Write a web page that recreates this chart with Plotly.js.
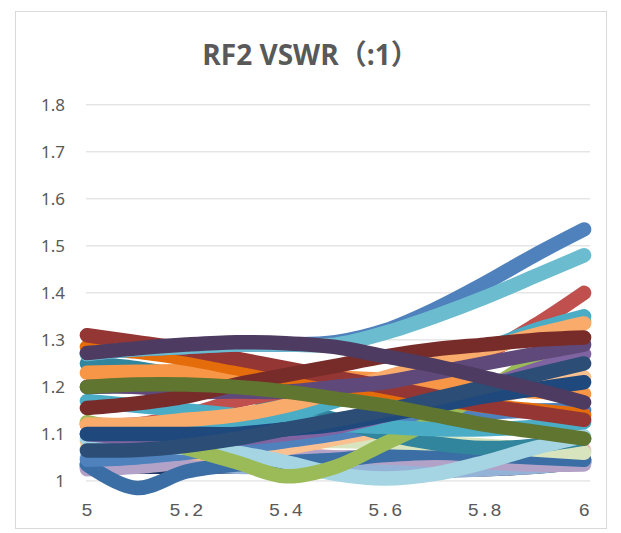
<!DOCTYPE html>
<html>
<head>
<meta charset="utf-8">
<script src="https://cdn.plot.ly/plotly-3.0.1.min.js"></script>
<style>
  html, body { margin: 0; padding: 0; background: #ffffff; }
  #frame { position: absolute; left: 15px; top: 11px; width: 592px; height: 518px; border: 1px solid #d9d9d9; box-sizing: border-box; }
  #chart { position: absolute; left: 0; top: 0; width: 621px; height: 533px; }
  .scatterlayer .js-line { stroke-linecap: round !important; }
</style>
</head>
<body>
<div id="frame"></div>
<div id="chart"></div>
<script>
// Frequency (GHz) sample points
const freq = [5.0, 5.1, 5.2, 5.3, 5.4, 5.5, 5.6, 5.7, 5.8, 5.9, 6.0];

// VSWR series
const sPlumLow     = [1.035, 1.035, 1.04, 1.045, 1.045, 1.04, 1.03, 1.025, 1.025, 1.03, 1.04];
const sNavyLow     = [1.03, 1.03, 1.03, 1.03, 1.03, 1.03, 1.03, 1.03, 1.035, 1.04, 1.045];
const sPink        = [1.03, 1.035, 1.04, 1.05, 1.055, 1.05, 1.035, 1.025, 1.03, 1.045, 1.065];
const sLavBlue     = [1.05, 1.04, 1.035, 1.03, 1.03, 1.025, 1.02, 1.02, 1.025, 1.03, 1.04];
const sLavender    = [1.025, 1.03, 1.04, 1.045, 1.05, 1.05, 1.05, 1.045, 1.04, 1.035, 1.035];
const sSteelBlue   = [1.035, 0.985, 1.02, 1.035, 1.04, 1.045, 1.055, 1.06, 1.055, 1.05, 1.045];
const sLightGreen  = [1.07, 1.07, 1.075, 1.08, 1.085, 1.085, 1.083, 1.08, 1.075, 1.067, 1.06];
const sPeach       = [1.085, 1.07, 1.06, 1.06, 1.07, 1.09, 1.11, 1.14, 1.17, 1.2, 1.22];
const sMidBlue     = [1.045, 1.05, 1.06, 1.07, 1.085, 1.1, 1.12, 1.135, 1.145, 1.15, 1.15];
const sTeal        = [1.25, 1.24, 1.22, 1.19, 1.16, 1.13, 1.1, 1.08, 1.07, 1.075, 1.09];
const sRed         = [1.12, 1.12, 1.14, 1.17, 1.19, 1.2, 1.21, 1.23, 1.27, 1.33, 1.40];
const sLightBlue   = [1.09, 1.08, 1.07, 1.06, 1.04, 1.015, 1.005, 1.015, 1.04, 1.07, 1.095];
const sGreen       = [1.125, 1.1, 1.07, 1.04, 1.01, 1.03, 1.08, 1.13, 1.19, 1.26, 1.34];
const sAqua        = [1.17, 1.16, 1.15, 1.14, 1.13, 1.12, 1.115, 1.11, 1.11, 1.115, 1.125];
const sAqua2       = [1.1, 1.1, 1.11, 1.12, 1.14, 1.17, 1.21, 1.25, 1.28, 1.32, 1.35];
const sPurple      = [1.10, 1.09, 1.085, 1.09, 1.1, 1.115, 1.14, 1.17, 1.2, 1.235, 1.27];
const sOrange      = [1.23, 1.232, 1.233, 1.23, 1.225, 1.22, 1.215, 1.21, 1.2, 1.19, 1.185];
const sLightOrange = [1.12, 1.12, 1.13, 1.14, 1.16, 1.19, 1.22, 1.25, 1.28, 1.31, 1.335];
const sDarkOrange  = [1.285, 1.275, 1.26, 1.24, 1.22, 1.205, 1.19, 1.175, 1.16, 1.15, 1.14];
const sMaroon      = [1.31, 1.295, 1.28, 1.26, 1.24, 1.22, 1.2, 1.18, 1.16, 1.145, 1.13];
const sBlue        = [1.27, 1.28, 1.285, 1.29, 1.29, 1.295, 1.32, 1.365, 1.42, 1.48, 1.535];
const sLightAqua   = [1.27, 1.28, 1.285, 1.29, 1.29, 1.29, 1.315, 1.35, 1.39, 1.435, 1.48];
const sNavy        = [1.1, 1.1, 1.1, 1.1, 1.11, 1.12, 1.14, 1.16, 1.18, 1.195, 1.21];
const sMidPurple   = [1.2, 1.2, 1.19, 1.19, 1.19, 1.2, 1.21, 1.23, 1.25, 1.27, 1.29];
const sDarkBlue    = [1.065, 1.066, 1.075, 1.09, 1.11, 1.13, 1.15, 1.175, 1.2, 1.225, 1.25];
const sDarkRed     = [1.155, 1.165, 1.18, 1.205, 1.225, 1.245, 1.265, 1.28, 1.29, 1.30, 1.305];
const sOlive       = [1.2, 1.205, 1.205, 1.2, 1.19, 1.175, 1.16, 1.14, 1.12, 1.105, 1.09];
const sDarkPurple  = [1.272, 1.282, 1.29, 1.295, 1.293, 1.285, 1.265, 1.245, 1.22, 1.195, 1.167];

const seriesList = [sPlumLow, sNavyLow, sPink, sLavBlue, sLavender, sSteelBlue,
  sLightGreen, sPeach, sMidBlue, sTeal, sRed, sLightBlue, sGreen, sAqua, sAqua2, sPurple, sOrange,
  sLightOrange, sDarkOrange, sMaroon, sBlue, sLightAqua, sNavy, sMidPurple, sDarkBlue,
  sDarkRed, sOlive, sDarkPurple];
const seriesColors = ['#3F3151', '#1F3864', '#E6B9B8', '#95B3D7', '#B3A2C7', '#3A6EA5',
  '#D7E4BD', '#FAC090', '#4F81BD', '#31859C', '#C0504D', '#A5D5E2', '#9BBB59', '#4BACC6', '#4BACC6', '#8064A2', '#F79646',
  '#F9AB6B', '#E46C0A', '#943634', '#4F81BD', '#6CBCCF', '#1F497D', '#5F497A', '#2C4D75',
  '#772C2A', '#5F7530', '#4D3B62'];

const yTicks = [1, 1.1, 1.2, 1.3, 1.4, 1.5, 1.6, 1.7, 1.8];
const yTickText = ['1', '1.1', '1.2', '1.3', '1.4', '1.5', '1.6', '1.7', '1.8'];
const xTicks = [5, 5.2, 5.4, 5.6, 5.8, 6];
const xTickText = ['5', '5.2', '5.4', '5.6', '5.8', '6'];

const traces = seriesList.map((ys, i) => ({
  x: freq, y: ys, type: 'scatter', mode: 'lines',
  line: { color: seriesColors[i], width: 14.5, shape: 'spline', smoothing: 1 },
  hoverinfo: 'skip', showlegend: false
}));

const gridShapes = yTicks.map(v => ({
  type: 'line', xref: 'x', yref: 'y', x0: 4.998, x1: 6.012, y0: v, y1: v,
  line: { color: '#d9d9d9', width: 1 }, layer: 'below'
}));

const layout = {
  width: 621, height: 533,
  margin: { l: 72, r: 22, t: 86, b: 37 },
  paper_bgcolor: 'rgba(0,0,0,0)', plot_bgcolor: 'rgba(0,0,0,0)',
  title: { text: 'RF2 VSWR（:1）', x: 0.5, xref: 'container', xanchor: 'center',
           y: 1 - 55 / 533, yref: 'container', yanchor: 'middle',
           font: { family: 'Open Sans, Noto Sans CJK SC, sans-serif', size: 28, color: '#595959', weight: 'bold' } },
  xaxis: { range: [4.97, 6.03], showgrid: false, zeroline: false, showline: false,
           tickmode: 'array', tickvals: xTicks, ticktext: xTickText, ticks: '',
           tickfont: { family: 'Liberation Mono, monospace', size: 19, color: '#595959' } },
  yaxis: { range: [0.968, 1.84], showgrid: false, zeroline: false, showline: false,
           tickmode: 'array', tickvals: yTicks, ticktext: yTickText, ticks: '',
           ticklabelstandoff: 6,
           tickfont: { family: 'Noto Sans, sans-serif', size: 17, color: '#595959' } },
  shapes: gridShapes
};

Plotly.newPlot('chart', traces, layout, { staticPlot: true, displayModeBar: false });
</script>
</body>
</html>
